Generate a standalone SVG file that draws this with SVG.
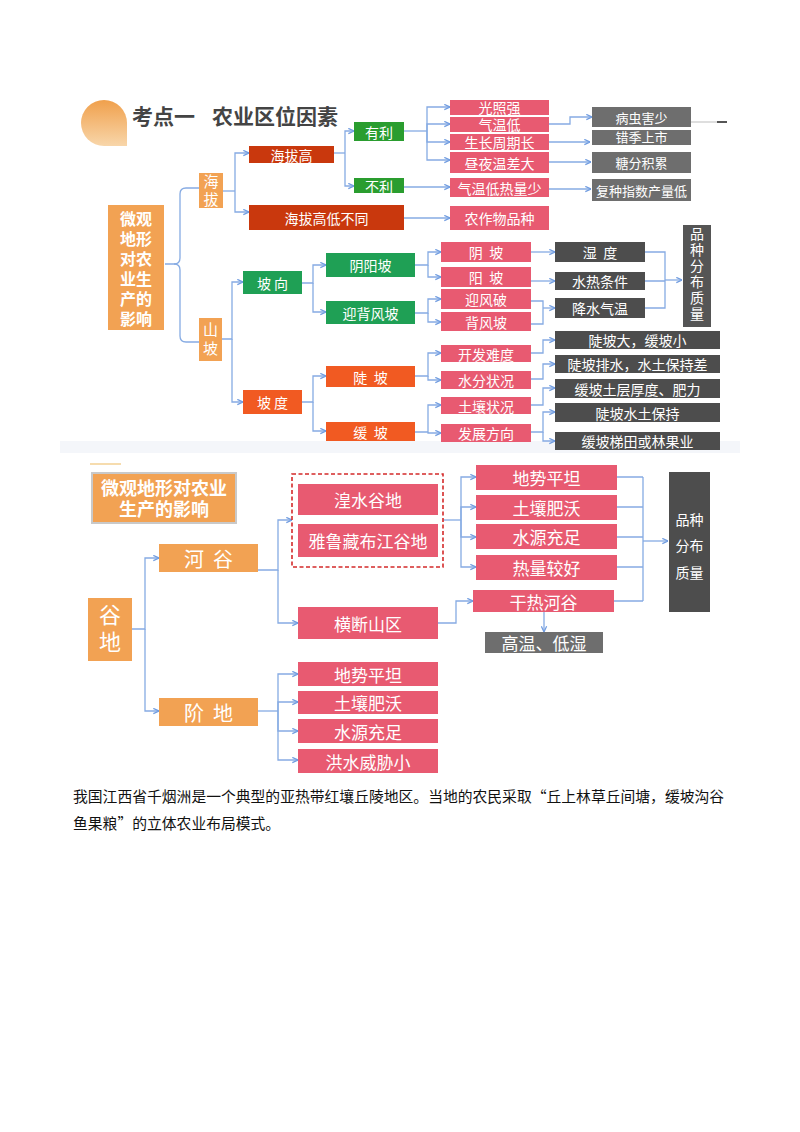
<svg xmlns="http://www.w3.org/2000/svg" width="800" height="1132" viewBox="0 0 800 1132">
<style>
.t{font-family:"Noto Sans CJK SC","Noto Sans",sans-serif;fill:#fff;text-anchor:middle;dominant-baseline:central;white-space:pre}
.v{font-family:"Noto Sans CJK SC","Noto Sans",sans-serif;fill:#fff;text-anchor:middle;writing-mode:vertical-rl}
.s13{font-size:13px}.s14{font-size:14px}.s15{font-size:15px}.s16{font-size:16px}.s17{font-size:17px}.s18{font-size:18px}.s20{font-size:20px}.s22{font-size:22px}
.b{font-weight:bold}
.or{fill:#f2a253}.dr{fill:#c9380d}.g1{fill:#2a9d2f}.g2{fill:#1fa055}.rr{fill:#f15a22}.pk{fill:#e85a71}.gy{fill:#6e6e6e}.dg{fill:#4d4d4d}.mg{fill:#555}
.c path{fill:none;stroke:#86abe3;stroke-width:1.3}
.c path.a{marker-end:url(#ah)}
</style>
<defs>
<marker id="ah" viewBox="0 0 8 8" refX="7.5" refY="4" markerWidth="7" markerHeight="7" orient="auto" markerUnits="userSpaceOnUse"><path d="M1,1 L7.5,4 L1,7" fill="none" stroke="#6f9be0" stroke-width="1.4"/></marker>
<linearGradient id="lg" x1="0" y1="0" x2="0" y2="1"><stop offset="0" stop-color="#f0a04c"/><stop offset="1" stop-color="#f8d6aa"/></linearGradient>
</defs>
<rect width="800" height="1132" fill="#fff"/>
<!-- divider band (behind) -->
<rect x="60" y="441" width="680" height="12" fill="#f4f6fa"/>
<path d="M90,464 H121" stroke="#f6dcae" stroke-width="2"/>

<!-- Title -->
<g id="title">
<path d="M127,146 H104 A23,23 0 0 1 81,123 A23,23 0 0 1 104,100 A23,23 0 0 1 127,123 Z" fill="url(#lg)"/>
<text x="132" y="124" font-family="Noto Sans CJK SC,sans-serif" font-size="21" font-weight="bold" fill="#444">考点一<tspan x="212">农业区位因素</tspan></text>
</g>

<g class="c" id="connectors-top">
<path d="M165,264 H174 Q180,264 180,258 V194 Q180,188 186,188 H199"/>
<path d="M174,264 Q180,264 180,270 V336 Q180,342 186,342 H199"/>
<path d="M223,191 H235"/>
<path class="a" d="M235,191 V153 H249"/>
<path class="a" d="M235,191 V212 H249"/>
<path d="M334,153 H345"/>
<path class="a" d="M345,153 V131 H354"/>
<path class="a" d="M345,153 V186 H354"/>
<path d="M404,131 H427"/>
<path class="a" d="M427,131 V107 H450"/>
<path class="a" d="M427,131 V124 H450"/>
<path class="a" d="M427,131 V142 H450"/>
<path class="a" d="M427,131 V160 H450"/>
<path class="a" d="M404,187 H450"/>
<path class="a" d="M404,218 H450"/>
<path class="a" d="M549,124 H570 V117 H592"/>
<path class="a" d="M549,142 H590"/>
<path class="a" d="M549,162 H591"/>
<path class="a" d="M549,189 H591"/>
<path class="a" d="M222,339 H232 V282 H243"/>
<path class="a" d="M232,339 V402 H243"/>
<path class="a" d="M302,283 H313 V265 H326"/>
<path class="a" d="M313,283 V312 H326"/>
<path class="a" d="M302,402 H313 V376 H326"/>
<path class="a" d="M313,402 V431 H326"/>
<path class="a" d="M415,265 H428 V252 H441"/>
<path class="a" d="M428,265 V277 H441"/>
<path class="a" d="M415,313 H428 V299 H441"/>
<path class="a" d="M428,313 V322 H441"/>
<path class="a" d="M415,376 H428 V353 H441"/>
<path class="a" d="M428,376 V380 H441"/>
<path class="a" d="M415,432 H428 V405 H441"/>
<path class="a" d="M428,432 V433 H441"/>
<path class="a" d="M531,252 H555"/>
<path class="a" d="M531,281 H555"/>
<path d="M531,301 H543 V324 H531"/>
<path class="a" d="M543,308 H555"/>
<path class="a" d="M531,353 H543 V340 H555"/>
<path class="a" d="M531,379 H543 V364 H555"/>
<path class="a" d="M531,405 H543 V388 H555"/>
<path class="a" d="M531,432 H543 V412 H555"/>
<path class="a" d="M543,432 V441 H555"/>
<path d="M645,252 H665 V308 H645 M645,281 H665"/>
<path class="a" d="M665,280 H682"/>
</g>
<path d="M691,122 H717" stroke="#c8c8c8" stroke-width="1.2"/>
<path d="M717,122 H727" stroke="#555" stroke-width="2"/>

<!-- Top nodes -->
<g id="n-root1"><rect class="or" x="108" y="205" width="56" height="125"/>
<text class="t s16 b" x="136" y="218">微观<tspan x="136" y="238">地形</tspan><tspan x="136" y="258">对农</tspan><tspan x="136" y="278">业生</tspan><tspan x="136" y="298">产的</tspan><tspan x="136" y="318">影响</tspan></text></g>
<g id="n-haiba"><rect class="or" x="199" y="173" width="24" height="35"/><text class="v s15" x="211" y="192" letter-spacing="3">海拔</text></g>
<g id="n-shanpo"><rect class="or" x="199" y="318" width="23" height="43"/><text class="v s15" x="210.5" y="341" letter-spacing="4">山坡</text></g>
<g id="n-haibagao"><rect class="dr" x="249" y="146" width="85" height="17"/><text class="t s14" x="291.5" y="154.5">海拔高</text></g>
<g id="n-haibabt"><rect class="dr" x="249" y="205" width="155" height="25"/><text class="t s14" x="326.5" y="217.5">海拔高低不同</text></g>
<g id="n-youli"><rect class="g1" x="354" y="122" width="50" height="19"/><text class="t s14" x="379" y="131.5">有利</text></g>
<g id="n-buli"><rect class="g1" x="354" y="178" width="50" height="15"/><text class="t s14" x="379" y="185.5">不利</text></g>
<g id="n-gz"><rect class="pk" x="450" y="100" width="99" height="15"/><text class="t s14" x="499.5" y="107">光照强</text></g>
<g id="n-qwd"><rect class="pk" x="450" y="117" width="99" height="15"/><text class="t s14" x="499.5" y="123.5">气温低</text></g>
<g id="n-sz"><rect class="pk" x="450" y="134" width="99" height="16"/><text class="t s14" x="499.5" y="142">生长周期长</text></g>
<g id="n-zy"><rect class="pk" x="450" y="152" width="99" height="21"/><text class="t s14" x="499.5" y="162.5">昼夜温差大</text></g>
<g id="n-qwrl"><rect class="pk" x="450" y="178" width="99" height="19"/><text class="t s14" x="499.5" y="187.5">气温低热量少</text></g>
<g id="n-nzw"><rect class="pk" x="450" y="206" width="99" height="24"/><text class="t s14" x="499.5" y="218">农作物品种</text></g>
<g id="n-bc"><rect class="gy" x="592" y="107" width="99" height="20"/><text class="t s13" x="641.5" y="117">病虫害少</text></g>
<g id="n-cj"><rect class="gy" x="592" y="130" width="99" height="15"/><text class="t s13" x="641.5" y="136.5">错季上市</text></g>
<g id="n-tf"><rect class="gy" x="592" y="152" width="99" height="21"/><text class="t s13" x="641.5" y="162.5">糖分积累</text></g>
<g id="n-fz"><rect class="gy" x="592" y="179" width="99" height="22"/><text class="t s13" x="641.5" y="190">复种指数产量低</text></g>

<g id="n-poxiang"><rect class="g2" x="243" y="271" width="59" height="23"/><text class="t s14" x="272.5" y="282.5">坡 向</text></g>
<g id="n-podu"><rect class="rr" x="243" y="390" width="59" height="24"/><text class="t s14" x="272.5" y="402">坡 度</text></g>
<g id="n-yyp"><rect class="g2" x="326" y="253" width="89" height="24"/><text class="t s14" x="370.5" y="265">阴阳坡</text></g>
<g id="n-ybf"><rect class="g2" x="326" y="301" width="89" height="23"/><text class="t s14" x="370.5" y="312.5">迎背风坡</text></g>
<g id="n-dp"><rect class="rr" x="326" y="366" width="89" height="21"/><text class="t s14" x="370.5" y="376.5">陡  坡</text></g>
<g id="n-hp"><rect class="rr" x="326" y="422" width="89" height="19"/><text class="t s14" x="370.5" y="431.5">缓  坡</text></g>

<g id="n-yinp"><rect class="pk" x="441" y="242" width="90" height="20"/><text class="t s14" x="486" y="252">阴  坡</text></g>
<g id="n-yangp"><rect class="pk" x="441" y="267" width="90" height="20"/><text class="t s14" x="486" y="277">阳  坡</text></g>
<g id="n-yfp"><rect class="pk" x="441" y="289" width="90" height="20"/><text class="t s14" x="486" y="299">迎风破</text></g>
<g id="n-bfp"><rect class="pk" x="441" y="312" width="90" height="19"/><text class="t s14" x="486" y="321.5">背风坡</text></g>
<g id="n-kf"><rect class="pk" x="441" y="345" width="90" height="17"/><text class="t s14" x="486" y="353.5">开发难度</text></g>
<g id="n-sf"><rect class="pk" x="441" y="371" width="90" height="18"/><text class="t s14" x="486" y="380">水分状况</text></g>
<g id="n-tr"><rect class="pk" x="441" y="397" width="90" height="17"/><text class="t s14" x="486" y="405.5">土壤状况</text></g>
<g id="n-fzfx"><rect class="pk" x="441" y="424" width="90" height="18"/><text class="t s14" x="486" y="433">发展方向</text></g>

<g id="n-sd"><rect class="dg" x="555" y="242" width="90" height="20"/><text class="t s14" x="600" y="252">湿  度</text></g>
<g id="n-sr"><rect class="dg" x="555" y="272" width="90" height="18"/><text class="t s14" x="600" y="281">水热条件</text></g>
<g id="n-js"><rect class="dg" x="555" y="298" width="90" height="20"/><text class="t s14" x="600" y="308">降水气温</text></g>
<g id="n-d1"><rect class="dg" x="555" y="331" width="165" height="18"/><text class="t s14" x="637.5" y="340">陡坡大，缓坡小</text></g>
<g id="n-d2"><rect class="dg" x="555" y="355" width="165" height="18"/><text class="t s14" x="637.5" y="364">陡坡排水，水土保持差</text></g>
<g id="n-d3"><rect class="dg" x="555" y="379" width="165" height="19"/><text class="t s14" x="637.5" y="388.5">缓坡土层厚度、肥力</text></g>
<g id="n-d4"><rect class="dg" x="555" y="403" width="165" height="19"/><text class="t s14" x="637.5" y="412.5">陡坡水土保持</text></g>
<g id="n-d5"><rect class="dg" x="555" y="432" width="165" height="18"/><text class="t s14" x="637.5" y="441">缓坡梯田或林果业</text></g>
<g id="n-pz1"><rect class="mg" x="683" y="225" width="28" height="102"/>
<text class="v s14" x="697" y="275" letter-spacing="2">品种分布质量</text></g>

<g class="c" id="connectors-bottom">
<path class="a" d="M132,629 H145 V558 H159"/>
<path class="a" d="M145,629 V711 H159"/>
<path class="a" d="M258,570 H278 V520 H292"/>
<path class="a" d="M278,570 V623 H298"/>
<path d="M443,520 H461"/>
<path class="a" d="M461,520 V477 H476"/>
<path class="a" d="M461,520 V507 H476"/>
<path class="a" d="M461,520 V537 H476"/>
<path class="a" d="M461,520 V567 H476"/>
<path class="a" d="M438,623 H456 V601 H473"/>
<path class="a" d="M544,612 V632"/>
<path d="M617,477 H643 M617,507 H643 M617,537 H643 M617,567 H643 M614,601 H643 M643,477 V601"/>
<path class="a" d="M643,541 H668"/>
<path d="M258,711 H278"/>
<path class="a" d="M278,711 V674 H298"/>
<path class="a" d="M278,711 V702 H298"/>
<path class="a" d="M278,711 V731 H298"/>
<path class="a" d="M278,711 V760 H298"/>
</g>

<g id="n-root2"><rect x="92" y="473" width="144" height="50" fill="#f2a253" stroke="#c9c9c9" stroke-width="2"/>
<text class="t s18 b" x="164" y="487">微观地形对农业<tspan x="164" y="508">生产的影响</tspan></text></g>
<g id="n-gudi"><rect class="or" x="88" y="598" width="44" height="63"/><text class="v s22" x="110" y="631" letter-spacing="5">谷地</text></g>
<g id="n-hegu"><rect class="or" x="159" y="544" width="99" height="28"/><text class="t s20" x="208.5" y="558">河  谷</text></g>
<g id="n-jiedi"><rect class="or" x="159" y="698" width="99" height="28"/><text class="t s20" x="208.5" y="712">阶  地</text></g>
<g id="n-dashed"><rect x="292" y="474" width="151" height="93" fill="none" stroke="#d42a2a" stroke-width="1.6" stroke-dasharray="4,2.5"/></g>
<g id="n-hs"><rect class="pk" x="298" y="484" width="140" height="31"/><text class="t s17" x="368" y="499.5">湟水谷地</text></g>
<g id="n-ylz"><rect class="pk" x="298" y="524" width="140" height="33"/><text class="t s17" x="368" y="540.5">雅鲁藏布江谷地</text></g>
<g id="n-hd"><rect class="pk" x="298" y="607" width="140" height="32"/><text class="t s17" x="368" y="623">横断山区</text></g>
<g id="n-r1"><rect class="pk" x="476" y="465" width="141" height="25"/><text class="t s17" x="546.5" y="477.5">地势平坦</text></g>
<g id="n-r2"><rect class="pk" x="476" y="495" width="141" height="25"/><text class="t s17" x="546.5" y="507.5">土壤肥沃</text></g>
<g id="n-r3"><rect class="pk" x="476" y="524" width="141" height="25"/><text class="t s17" x="546.5" y="536.5">水源充足</text></g>
<g id="n-r4"><rect class="pk" x="476" y="555" width="141" height="25"/><text class="t s17" x="546.5" y="567.5">热量较好</text></g>
<g id="n-grhg"><rect class="pk" x="473" y="590" width="141" height="22"/><text class="t s17" x="543.5" y="601">干热河谷</text></g>
<g id="n-gw"><rect class="gy" x="485" y="632" width="118" height="21"/><text class="t s17" x="544" y="642.5">高温、低湿</text></g>
<g id="n-pz2"><rect class="dg" x="669" y="472" width="41" height="140"/>
<text class="t s14" x="689.5" y="519">品种<tspan x="689.5" y="545">分布</tspan><tspan x="689.5" y="572">质量</tspan></text></g>
<g id="n-j1"><rect class="pk" x="298" y="662" width="140" height="24"/><text class="t s17" x="368" y="674">地势平坦</text></g>
<g id="n-j2"><rect class="pk" x="298" y="691" width="140" height="23"/><text class="t s17" x="368" y="702.5">土壤肥沃</text></g>
<g id="n-j3"><rect class="pk" x="298" y="719" width="140" height="24"/><text class="t s17" x="368" y="731">水源充足</text></g>
<g id="n-j4"><rect class="pk" x="298" y="749" width="140" height="24"/><text class="t s17" x="368" y="761">洪水威胁小</text></g>

<g id="para" font-family="Noto Sans CJK SC,sans-serif" font-size="14.8" fill="#111">
<text x="73" y="802">我国江西省千烟洲是一个典型的亚热带红壤丘陵地区。当地的农民采取“丘上林草丘间塘，缓坡沟谷<tspan x="73" y="829">鱼果粮”的立体农业布局模式。</tspan></text>
</g>
</svg>
